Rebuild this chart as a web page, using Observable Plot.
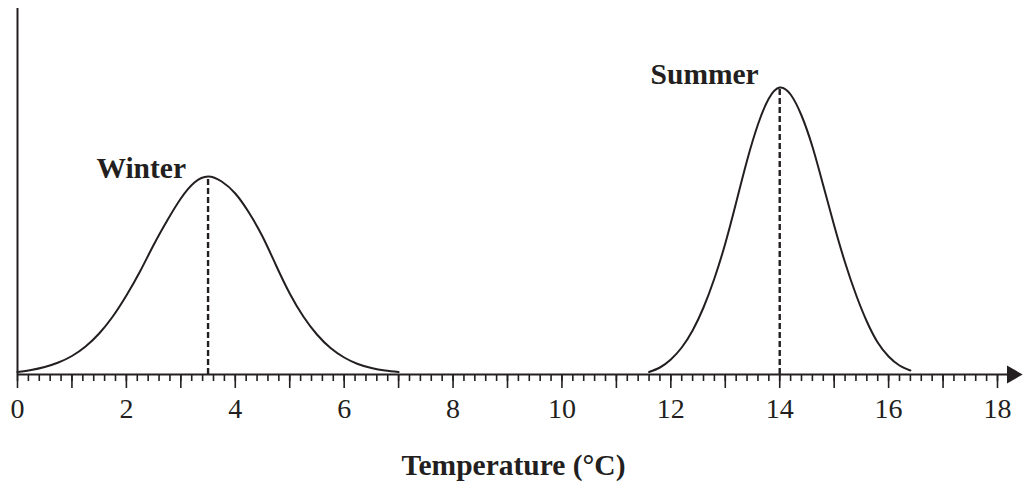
<!DOCTYPE html>
<html><head><meta charset="utf-8">
<script src="https://cdn.jsdelivr.net/npm/d3@7"></script>
<script src="https://cdn.jsdelivr.net/npm/@observablehq/plot@0.6"></script>
<style>html,body{margin:0;padding:0;background:#fff} svg{display:block}</style>
</head><body><div id="chart"></div>
<script>
// Values (frequency in arbitrary units)
const winterTemp = [0, 0.25, 0.5, 0.75, 1, 1.25, 1.5, 1.75, 2, 2.25, 2.5, 2.75, 3, 3.25, 3.5, 3.75, 4, 4.25, 4.5, 4.75, 5, 5.25, 5.5, 5.75, 6, 6.25, 6.5, 6.75, 7];
const winterFreq = [2.5, 4.5, 7.5, 12, 18.5, 28, 41, 58, 79, 103, 129.5, 154, 176, 192, 198, 193, 181, 162, 138, 109, 81, 58, 40, 26.5, 17, 10.5, 6.5, 4, 2.5];
const summerTemp = [11.6, 11.8, 12, 12.2, 12.4, 12.6, 12.8, 13, 13.2, 13.4, 13.6, 13.8, 14, 14.2, 14.4, 14.6, 14.8, 15, 15.2, 15.4, 15.6, 15.8, 16, 16.2, 16.4];
const summerFreq = [2.5, 7, 15, 27, 44, 67, 96, 131, 172, 214, 250, 276, 287, 280, 259, 228, 189, 149, 112, 80, 53, 32, 18, 9, 4];
const seasonNames = ["Winter", "Summer"];
const seasonMeanTemp = [3.5, 14];
const seasonPeakFreq = [198, 287];
const labelTicks = [0, 2, 4, 6, 8, 10, 12, 14, 16, 18];
const majorTicks = [0, 1, 2, 3, 4, 5, 6, 7, 8, 9, 10, 11, 12, 13, 14, 15, 16, 17, 18];
const minorTicks = d3.range(0, 91).map(i => i / 5);
const axisTitle = "Temperature (°C)";

const winter = winterTemp.map((t, i) => ({t, f: winterFreq[i]}));
const summer = summerTemp.map((t, i) => ({t, f: summerFreq[i]}));
const peaks = seasonNames.map((name, i) => ({name, t: seasonMeanTemp[i], f: seasonPeakFreq[i]}));
const ink = "#231f20";

const chart = Plot.plot({
  width: 1025, height: 486,
  marginLeft: 17, marginRight: 28, marginTop: 8, marginBottom: 112,
  x: {domain: [0, 18], label: null},
  y: {domain: [0, 366], axis: null},
  style: {fontFamily: "'Liberation Serif', 'Times New Roman', serif", color: ink, background: "#fff", overflow: "visible"},
  marks: [
    Plot.axisX({ticks: minorTicks, tickSize: 7, tickFormat: () => "", strokeWidth: 1.6, stroke: ink}),
    Plot.axisX({ticks: majorTicks, tickSize: 14, tickFormat: () => "", strokeWidth: 1.6, stroke: ink}),
    Plot.axisX({ticks: labelTicks, tickSize: 0, tickPadding: 24, fontSize: 28, tickFormat: d => String(d), fill: ink}),
    Plot.ruleY([{t0: 0, t1: 18.2, f: 0}], {x1: "t0", x2: "t1", y: "f", strokeWidth: 2, stroke: ink}),
    Plot.dot([{t: 18.27, f: 0}], {x: "t", y: "f", symbol: "triangle", r: 6.7, rotate: 90, fill: ink, stroke: "none"}),
    Plot.ruleX([{t: 0, f0: 0, f1: 366}], {x: "t", y1: "f0", y2: "f1", strokeWidth: 2, stroke: ink}),
    Plot.line(winter, {x: "t", y: "f", curve: "natural", strokeWidth: 2, stroke: ink}),
    Plot.line(summer, {x: "t", y: "f", curve: "natural", strokeWidth: 2, stroke: ink}),
    Plot.ruleX(peaks, {x: "t", y1: 0, y2: "f", strokeWidth: 2.4, strokeDasharray: "6,3", stroke: ink}),
    Plot.text([peaks[0]], {x: "t", y: "f", text: "name", textAnchor: "end", lineAnchor: "bottom", dx: -22, dy: 1, fontSize: 29.5, fontWeight: "bold", fill: ink}),
    Plot.text([peaks[1]], {x: "t", y: "f", text: "name", textAnchor: "end", lineAnchor: "bottom", dx: -21, dy: -4, fontSize: 29.5, fontWeight: "bold", fill: ink}),
    Plot.text([axisTitle], {frameAnchor: "bottom", text: d => d, dx: 6, dy: 100, fontSize: 29.5, fontWeight: "bold", fill: ink})
  ]
});
document.getElementById("chart").appendChild(chart);
</script>
</body></html>
